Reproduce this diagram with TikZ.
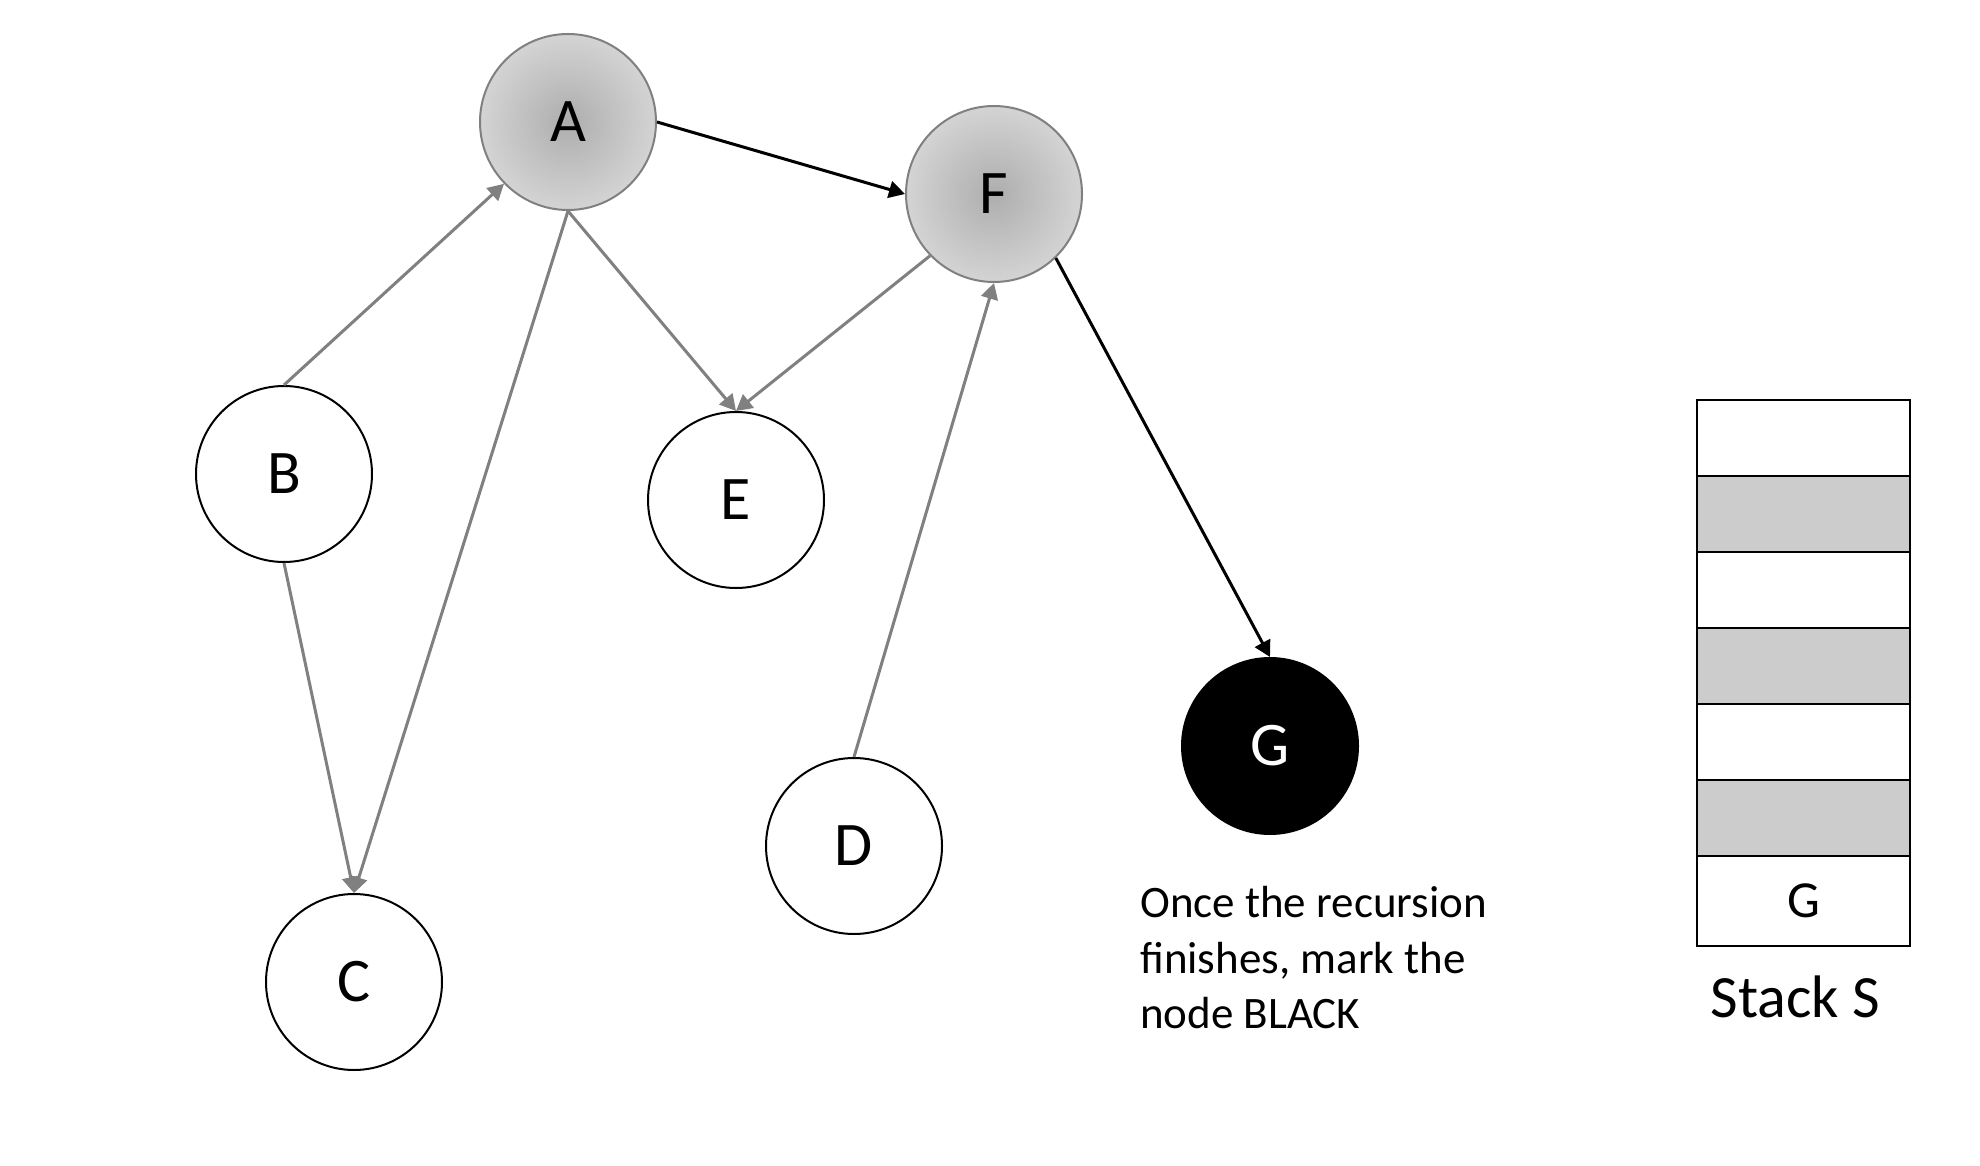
\documentclass[tikz,border=0pt]{standalone}
\usepackage{fontspec}
\setmainfont{Carlito}
\usepackage{xcolor}
\usepackage{tikz}
\usetikzlibrary{positioning, arrows.meta}

\definecolor{edgegray}{HTML}{808080}
\definecolor{cellgray}{HTML}{CCCCCC}

\begin{document}
\begin{tikzpicture}[x=1pt, y=-1pt,
    vertex/.style={draw, circle, line width=2pt, minimum size=176pt, inner sep=0pt, font=\fontsize{62}{74}\selectfont},
    grey vertex/.style={vertex, draw=edgegray, shading=radial, inner color=black!32, outer color=black!17},
    black vertex/.style={vertex, fill=black, text=white},
    edge/.style={-{Triangle[length=16pt, width=17pt]}, line width=3pt, edgegray},
    tree edge/.style={edge, black},
    cell/.style={draw, line width=2pt, minimum width=213pt, minimum height=76pt, inner sep=0pt, anchor=north west, font=\fontsize{52}{62}\selectfont}]

      \path[use as bounding box, fill=white] (0, 0) rectangle (1980, 1166);

      % graph
      \node[grey vertex] (A) at (568, 122) {A};
      \node[grey vertex] (F) at (994, 194) {F};
      \node[vertex] (B) at (284, 474) {B};
      \node[vertex] (E) at (736, 500) {E};
      \node[vertex] (C) at (354, 982) {C};
      \node[vertex] (D) at (854, 846) {D};
      \node[black vertex] (G) at (1270, 746) {G};

      \draw[edge] (B.north) -- (A.224);
      \draw[edge] (B.south) -- (C.north);
      \draw[edge] (A.south) -- (C.north);
      \draw[edge] (A.south) -- (E.north);
      \draw[edge] (F.224) -- (E.north);
      \draw[edge] (D.north) -- (F.south);
      \draw[tree edge] (A.east) -- (F.west);
      \draw[tree edge] (F.314) -- (G.north);

      \node[anchor=north west, align=left, inner sep=0pt, font=\fontsize{45}{55.6}\selectfont] (note) at (1140, 886) {Once the recursion\\finishes, mark the\\node BLACK};

      % stack
      \foreach \i/\col in {0/white, 1/cellgray, 2/white, 3/cellgray, 4/white, 5/cellgray}
        \node[cell, fill=\col] (s\i) at (1696, {399 + 76*\i}) {};
      \node[cell, fill=white, minimum height=90pt] (s6) at (1696, 855) {G};

      \node[below=25pt of s6, xshift=-8pt, font=\fontsize{60}{72}\selectfont] (stack) {Stack S};
    \end{tikzpicture}
\end{document}
